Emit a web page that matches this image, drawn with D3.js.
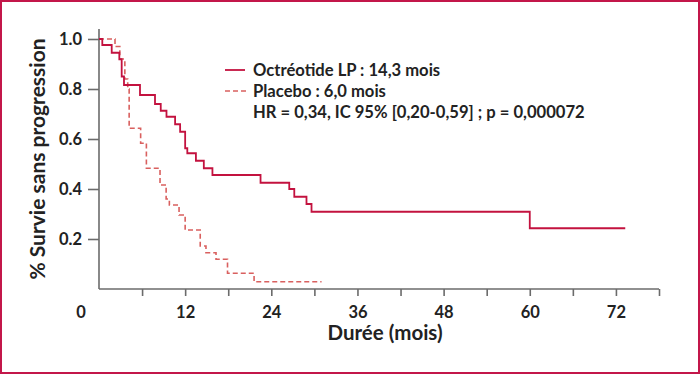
<!DOCTYPE html>
<html>
<head>
<meta charset="utf-8">
<script src="https://cdn.jsdelivr.net/npm/d3@7"></script>
<style>
  body { margin: 0; background: #fff; }
  svg text { font-family: Lato, "Open Sans", sans-serif; fill: #222; }
</style>
</head>
<body>
<script>
// Kaplan-Meier steps (months / survival)
const octreoTimes = [0, 0.46, 1.77, 2.83, 3.16, 3.48, 5.71, 7.8, 8.6, 9.4, 10.6, 11.3, 12.0, 12.3, 13.5, 14.6, 15.8, 22.5, 26.5, 27.2, 28.9, 29.6, 60.0, 73.3]
const octreoSurv  = [1.0, 0.976, 0.945, 0.919, 0.85, 0.816, 0.776, 0.74, 0.713, 0.689, 0.659, 0.629, 0.563, 0.543, 0.513, 0.483, 0.456, 0.425, 0.40, 0.369, 0.34, 0.309, 0.243, 0.243]

const placeboTimes = [0, 2.23, 2.9, 3.6, 4.0, 4.2, 5.8, 6.6, 8.5, 9.35, 9.8, 11.15, 12.0, 14.1, 14.9, 16.3, 17.9, 21.6, 31.0]
const placeboSurv  = [1.0, 0.97, 0.92, 0.84, 0.80, 0.643, 0.583, 0.483, 0.416, 0.36, 0.336, 0.296, 0.236, 0.172, 0.145, 0.119, 0.063, 0.029, 0.029]

const xTicks = [12, 24, 36, 48, 60, 72]
const xMinor = [6, 18, 30, 42, 54, 66, 78]
const yTicks = [0.2, 0.4, 0.6, 0.8, 1.0]

const legendLabels = ['Octréotide LP : 14,3 mois', 'Placebo : 6,0 mois', 'HR = 0,34, IC 95% [0,20-0,59] ; p = 0,000072']

const W = 700, H = 374
const solidCol = '#c3123f'
const dashCol = '#d9605f'
const axisCol = '#6b6b6b'

const svg = d3.select('body').append('svg')
    .attr('width', W)
    .attr('height', H)

// frame
svg.append('rect')
    .attr('x', 1).attr('y', 1)
    .attr('width', W - 2).attr('height', H - 2)
    .attr('fill', 'none')
    .attr('stroke', '#c3174a')
    .attr('stroke-width', 2)

const x = d3.scaleLinear().domain([0, 78]).range([99, 659])
const y = d3.scaleLinear().domain([0, 1]).range([289, 39])

const g = svg.append('g')

// y axis
const yAxis = g.append('g')
    .attr('transform', `translate(${x(0)},0)`)
    .call(d3.axisLeft(y).tickValues(yTicks).tickSize(11).tickPadding(6).tickFormat(d3.format('.1f')))
yAxis.select('.domain').attr('d', `M0,${y(1.04)}V${y(0)}`)

// x axis
const xAxis = g.append('g')
    .attr('transform', `translate(0,${y(0)})`)
    .call(d3.axisBottom(x).tickValues(xTicks.concat(xMinor)).tickSize(7).tickPadding(10)
        .tickFormat(d => xTicks.includes(d) ? d : ''))
xAxis.select('.domain').attr('d', `M${x(0)},0H${x(78)}`)

svg.selectAll('.domain, .tick line')
    .attr('stroke', axisCol)
    .attr('stroke-width', 1.6)
svg.selectAll('.tick text')
    .attr('font-family', 'Lato, sans-serif')
    .attr('font-size', 16.5)
    .attr('font-weight', 'bold')
    .attr('fill', '#222')

// the "0" at the corner
g.append('text')
    .attr('x', 81).attr('y', 318)
    .attr('text-anchor', 'middle')
    .attr('font-size', 16.5).attr('font-weight', 'bold')
    .text('0')

// curves
const line = d3.line()
    .x(d => x(d[0]))
    .y(d => y(d[1]))
    .curve(d3.curveStepAfter)

g.append('path')
    .datum(d3.zip(placeboTimes, placeboSurv))
    .attr('fill', 'none')
    .attr('stroke', dashCol)
    .attr('stroke-width', 1.6)
    .attr('stroke-dasharray', '5,3')
    .attr('d', line)

g.append('path')
    .datum(d3.zip(octreoTimes, octreoSurv))
    .attr('fill', 'none')
    .attr('stroke', solidCol)
    .attr('stroke-width', 1.8)
    .attr('d', line)

// axis titles
svg.append('text')
    .attr('x', 385).attr('y', 340)
    .attr('text-anchor', 'middle')
    .attr('font-size', 20.5).attr('font-weight', 'bold')
    .text('Durée (mois)')

svg.append('text')
    .attr('transform', 'translate(45,159) rotate(-90)')
    .attr('text-anchor', 'middle')
    .attr('font-size', 21).attr('font-weight', 'bold')
    .text('% Survie sans progression')

// legend
const leg = svg.append('g')
leg.append('line')
    .attr('x1', 225).attr('x2', 245).attr('y1', 70).attr('y2', 70)
    .attr('stroke', solidCol).attr('stroke-width', 1.8)
leg.append('line')
    .attr('x1', 225).attr('x2', 246).attr('y1', 91).attr('y2', 91)
    .attr('stroke', dashCol).attr('stroke-width', 1.6)
    .attr('stroke-dasharray', '5,3')
leg.selectAll('.lt')
    .data(legendLabels)
    .enter()
    .append('text')
    .attr('x', 253)
    .attr('y', (d, i) => 76 + i * 21)
    .attr('font-size', 16.6)
    .attr('font-weight', 'bold')
    .text(d => d)
</script>
</body>
</html>
